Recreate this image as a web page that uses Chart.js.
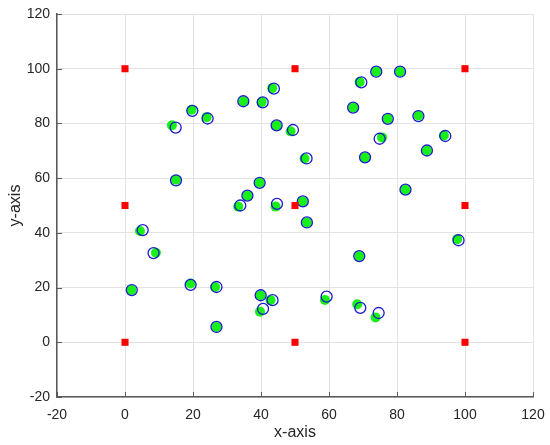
<!DOCTYPE html>
<html>
<head>
<meta charset="utf-8">
<script src="https://cdn.jsdelivr.net/npm/chart.js@4/dist/chart.umd.min.js"></script>
<style>
  html, body { margin: 0; padding: 0; background: #fff; }
  #wrap { width: 550px; height: 445px; }
</style>
</head>
<body>
<div id="wrap"><canvas id="c" width="550" height="445"></canvas></div>
<script>
// Points de référence (carrés rouges)
const refX = [0, 0, 0, 50, 50, 50, 100, 100, 100];
const refY = [0, 50, 100, 0, 50, 100, 0, 50, 100];

// Positions estimées (cercles verts pleins)
const estX = [1.9, 4.4, 9.1, 13.8, 15.0, 19.6, 19.3, 24.0, 26.5, 26.9, 33.3, 34.8, 36.0, 39.6,
  40.2, 39.9, 39.7, 42.8, 43.3, 44.6, 44.3, 48.7, 52.3, 52.8, 53.5, 58.8, 67.1, 68.3, 68.9,
  69.0, 70.6, 73.9, 73.7, 75.6, 77.3, 80.9, 82.5, 86.3, 88.8, 93.8, 97.7];
const estY = [19.1, 40.7, 32.7, 79.3, 59.4, 85.0, 21.5, 82.3, 20.2, 5.6, 49.6, 88.1, 53.6, 58.3,
  87.8, 17.2, 11.2, 15.4, 92.9, 79.3, 49.6, 77.1, 51.5, 67.2, 43.8, 15.5, 85.8, 13.9, 31.5,
  95.1, 67.6, 98.9, 9.1, 74.9, 81.7, 98.9, 55.8, 82.9, 70.1, 75.6, 37.7];

// Positions réelles (cercles bleus)
const trueX = [2.0, 5.2, 8.4, 14.9, 15.0, 19.8, 19.3, 24.3, 26.9, 26.9, 33.9, 34.8, 36.0, 39.6,
  40.5, 39.9, 40.6, 43.4, 43.8, 44.6, 44.7, 49.4, 52.3, 53.4, 53.5, 59.3, 67.1, 69.2, 68.9,
  69.5, 70.6, 73.9, 74.6, 74.9, 77.3, 80.9, 82.5, 86.3, 88.8, 94.2, 98.1];
const trueY = [19.1, 41.0, 32.6, 78.5, 59.2, 84.6, 21.0, 81.8, 20.2, 5.6, 50.0, 88.1, 53.6, 58.3,
  87.7, 17.2, 12.2, 15.4, 92.7, 79.3, 50.6, 77.6, 51.5, 67.2, 43.8, 16.7, 85.8, 12.6, 31.5,
  95.0, 67.6, 98.9, 10.7, 74.4, 81.7, 98.9, 55.8, 82.7, 70.1, 75.4, 37.3];

// Graduations
const axisMin = -20;
const axisMax = 120;
const axisStep = 20;

function toPoints(xs, ys) {
  return xs.map((x, i) => ({ x: x, y: ys[i] }));
}

const fontFamily = "'Liberation Sans', Arial, sans-serif";
const gridColor = "#e3e3e3";
const axisColor = "#5a5a5a";
const textColor = "#262626";

// Petites graduations vers l'intérieur (style MATLAB)
const innerTicks = {
  id: "innerTicks",
  afterDraw(chart) {
    const { ctx, chartArea, scales } = chart;
    const len = 5;
    ctx.save();
    ctx.strokeStyle = axisColor;
    ctx.lineWidth = 1;
    scales.x.ticks.forEach((t) => {
      const px = Math.round(scales.x.getPixelForValue(t.value)) + 0.5;
      ctx.beginPath();
      ctx.moveTo(px, chartArea.bottom);
      ctx.lineTo(px, chartArea.bottom - len);
      ctx.stroke();
    });
    scales.y.ticks.forEach((t) => {
      const py = Math.round(scales.y.getPixelForValue(t.value)) + 0.5;
      ctx.beginPath();
      ctx.moveTo(chartArea.left, py);
      ctx.lineTo(chartArea.left + len, py);
      ctx.stroke();
    });
    ctx.restore();
  },
};

const ctx = document.getElementById("c").getContext("2d");
new Chart(ctx, {
  type: "scatter",
  data: {
    datasets: [
      {
        label: "réel",
        data: toPoints(trueX, trueY),
        pointStyle: "circle",
        pointRadius: 5.5,
        backgroundColor: "rgba(0,0,0,0)",
        borderColor: "#1a1acc",
        borderWidth: 1.3,
        order: 1,
      },
      {
        label: "estimé",
        data: toPoints(estX, estY),
        pointStyle: "circle",
        pointRadius: 5,
        backgroundColor: "#19f019",
        borderColor: "#19f019",
        borderWidth: 0,
        order: 2,
      },
      {
        label: "ancres",
        data: toPoints(refX, refY),
        pointStyle: "rect",
        pointRadius: 5,
        backgroundColor: "#ff0000",
        borderColor: "#ff0000",
        borderWidth: 0,
        order: 0,
      },
    ],
  },
  options: {
    responsive: false,
    animation: false,
    layout: { padding: { left: 0, right: 17, top: 14, bottom: 0 } },
    plugins: { legend: { display: false }, tooltip: { enabled: false } },
    scales: {
      x: {
        type: "linear",
        min: axisMin,
        max: axisMax,
        ticks: {
          stepSize: axisStep,
          color: textColor,
          font: { family: fontFamily, size: 14 },
          padding: 10,
          maxRotation: 0,
        },
        grid: { color: gridColor, drawTicks: false },
        border: { color: axisColor, width: 1.5 },
        title: {
          display: true,
          text: "x-axis",
          color: textColor,
          font: { family: fontFamily, size: 16 },
          padding: { top: 0, bottom: 3 },
        },
        afterFit: (scale) => {
          scale.height = 48;
          scale.paddingLeft = 0;
          scale.paddingRight = 0;
        },
      },
      y: {
        type: "linear",
        min: axisMin,
        max: axisMax,
        ticks: {
          stepSize: axisStep,
          color: textColor,
          font: { family: fontFamily, size: 14 },
          padding: 7,
        },
        grid: { color: gridColor, drawTicks: false },
        border: { color: axisColor, width: 1.5 },
        title: {
          display: true,
          text: "y-axis",
          color: textColor,
          font: { family: fontFamily, size: 16 },
          padding: { top: 6, bottom: 0 },
        },
        afterFit: (scale) => {
          scale.width = 57;
          scale.paddingTop = 0;
          scale.paddingBottom = 0;
        },
      },
    },
  },
  plugins: [innerTicks],
});
</script>
</body>
</html>
